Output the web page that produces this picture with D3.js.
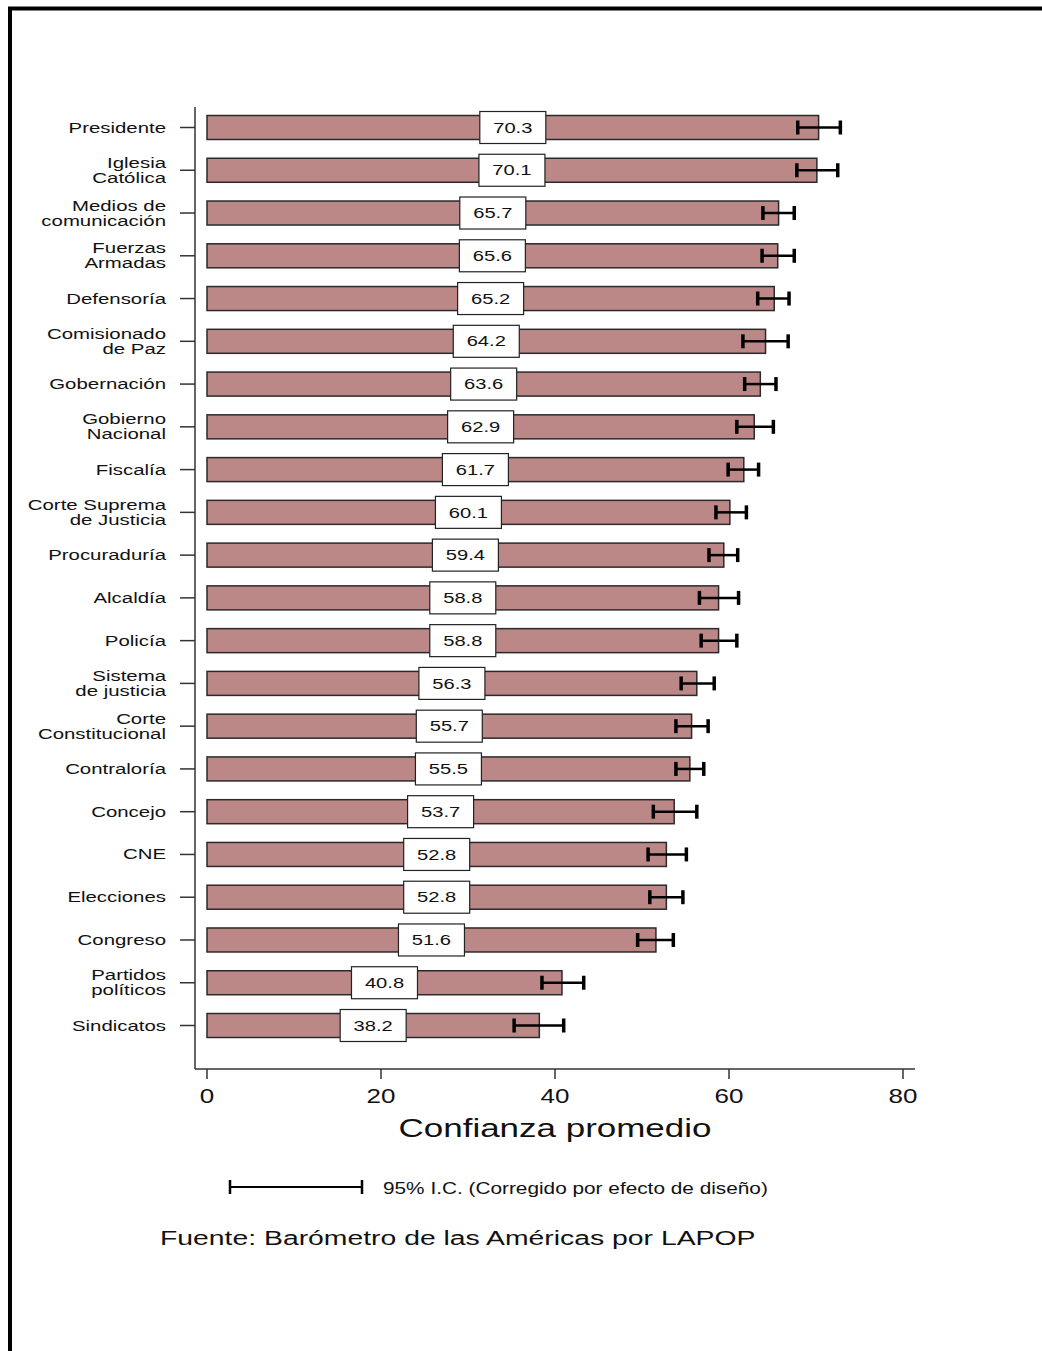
<!DOCTYPE html>
<html lang="es">
<head>
  <meta charset="UTF-8" />
  <title>Confianza promedio en instituciones</title>
  <script src="https://cdn.jsdelivr.net/npm/d3@7"></script>
  <style>
    body {
      margin: 0;
      background: #fff;
    }

    text {
      font-family: "Liberation Sans", Arial, sans-serif;
      fill: #111;
    }
  </style>
</head>

<body>
  <div id="chart"></div>
  <script>
    // data
    var categories = [
      "Presidente", "Iglesia\nCatólica", "Medios de\ncomunicación", "Fuerzas\nArmadas",
      "Defensoría", "Comisionado\nde Paz", "Gobernación", "Gobierno\nNacional",
      "Fiscalía", "Corte Suprema\nde Justicia", "Procuraduría", "Alcaldía",
      "Policía", "Sistema\nde justicia", "Corte\nConstitucional", "Contraloría",
      "Concejo", "CNE", "Elecciones", "Congreso", "Partidos\npolíticos", "Sindicatos"
    ];
    var means = [70.3, 70.1, 65.7, 65.6, 65.2, 64.2, 63.6, 62.9, 61.7, 60.1, 59.4,
      58.8, 58.8, 56.3, 55.7, 55.5, 53.7, 52.8, 52.8, 51.6, 40.8, 38.2];
    var ciLow = [67.9, 67.8, 63.9, 63.8, 63.3, 61.6, 61.8, 60.9, 59.9, 58.5, 57.7,
      56.6, 56.8, 54.5, 53.9, 53.9, 51.3, 50.7, 50.9, 49.5, 38.5, 35.3];
    var ciHigh = [72.8, 72.5, 67.5, 67.5, 66.9, 66.8, 65.4, 65.1, 63.4, 62.0, 61.0,
      61.1, 60.9, 58.3, 57.6, 57.1, 56.3, 55.1, 54.7, 53.6, 43.3, 41.0];
    var xTicks = [0, 20, 40, 60, 80];

    var w = 1042,
      h = 1351;
    var sx = 1.3; // the original text is stretched sideways

    var svg = d3.select("#chart").append("svg")
      .attr("width", w)
      .attr("height", h);

    // stretched text helper
    function label(g, x, y, str, size, anchor, scale) {
      return g.append("text")
        .attr("transform", "translate(" + x + "," + y + ") scale(" + (scale || sx) + ",1)")
        .attr("text-anchor", anchor || "start")
        .attr("dominant-baseline", "central")
        .style("font-size", size + "px")
        .text(str);
    }

    // frame
    svg.append("path")
      .attr("d", "M10,1351 V8.5 H1042")
      .attr("fill", "none")
      .attr("stroke", "#000")
      .attr("stroke-width", 4);

    var x = d3.scaleLinear().domain([0, 80]).range([207, 903]);
    var y = d3.scalePoint().domain(d3.range(categories.length)).range([127.5, 1025.5]);
    var barH = 24;

    // axes lines
    svg.append("line")
      .attr("x1", 195).attr("x2", 195)
      .attr("y1", 107).attr("y2", 1069)
      .attr("stroke", "#333").attr("stroke-width", 1.5);
    svg.append("line")
      .attr("x1", 195).attr("x2", 915)
      .attr("y1", 1069).attr("y2", 1069)
      .attr("stroke", "#333").attr("stroke-width", 1.5);

    // y ticks and labels
    var yAxis = svg.append("g");
    categories.forEach(function(c, i) {
      var cy = y(i);
      yAxis.append("line")
        .attr("x1", 180).attr("x2", 195)
        .attr("y1", cy).attr("y2", cy)
        .attr("stroke", "#333").attr("stroke-width", 1.5);
      var lines = c.split("\n");
      lines.forEach(function(l, j) {
        var dy = (j - (lines.length - 1) / 2) * 15;
        label(yAxis, 166, cy + dy, l, 15, "end", 1.36);
      });
    });

    // x ticks
    var xAxis = svg.append("g");
    xTicks.forEach(function(t) {
      xAxis.append("line")
        .attr("x1", x(t)).attr("x2", x(t))
        .attr("y1", 1069).attr("y2", 1079)
        .attr("stroke", "#333").attr("stroke-width", 1.5);
      label(xAxis, x(t), 1096, t, 20, "middle");
    });
    label(svg, 555, 1128, "Confianza promedio", 26.5, "middle", 1.32);

    // bars
    svg.append("g").selectAll("rect")
      .data(means)
      .enter()
      .append("rect")
      .attr("x", x(0))
      .attr("y", function(d, i) {
        return y(i) - barH / 2;
      })
      .attr("width", function(d) {
        return x(d) - x(0);
      })
      .attr("height", barH)
      .attr("fill", "#bc8787")
      .attr("stroke", "#2a2a2a")
      .attr("stroke-width", 1.5);

    // error bars
    var err = svg.append("g")
      .attr("stroke", "#000");
    means.forEach(function(m, i) {
      var cy = y(i);
      err.append("line")
        .attr("x1", x(ciLow[i])).attr("x2", x(ciHigh[i]))
        .attr("y1", cy).attr("y2", cy)
        .attr("stroke-width", 2.5);
      [ciLow[i], ciHigh[i]].forEach(function(v) {
        err.append("line")
          .attr("x1", x(v)).attr("x2", x(v))
          .attr("y1", cy - 7).attr("y2", cy + 7)
          .attr("stroke-width", 3.5);
      });
    });

    // value boxes
    var boxes = svg.append("g");
    means.forEach(function(m, i) {
      var cx = x(m / 2),
        cy = y(i);
      boxes.append("rect")
        .attr("x", cx - 33)
        .attr("y", cy - 16)
        .attr("width", 66)
        .attr("height", 32)
        .attr("fill", "#fff")
        .attr("stroke", "#222")
        .attr("stroke-width", 1.2);
      label(boxes, cx, cy, m.toFixed(1), 15.5, "middle");
    });

    // legend
    var leg = svg.append("g").attr("stroke", "#000");
    leg.append("line")
      .attr("x1", 230).attr("x2", 362)
      .attr("y1", 1187).attr("y2", 1187)
      .attr("stroke-width", 2);
    [230, 362].forEach(function(v) {
      leg.append("line")
        .attr("x1", v).attr("x2", v)
        .attr("y1", 1180).attr("y2", 1194)
        .attr("stroke-width", 2.5);
    });
    label(svg, 383, 1188, "95% I.C. (Corregido por efecto de diseño)", 16, "start", 1.3);

    label(svg, 160, 1237, "Fuente: Barómetro de las Américas por LAPOP", 21, "start", 1.35);
  </script>
</body>

</html>
